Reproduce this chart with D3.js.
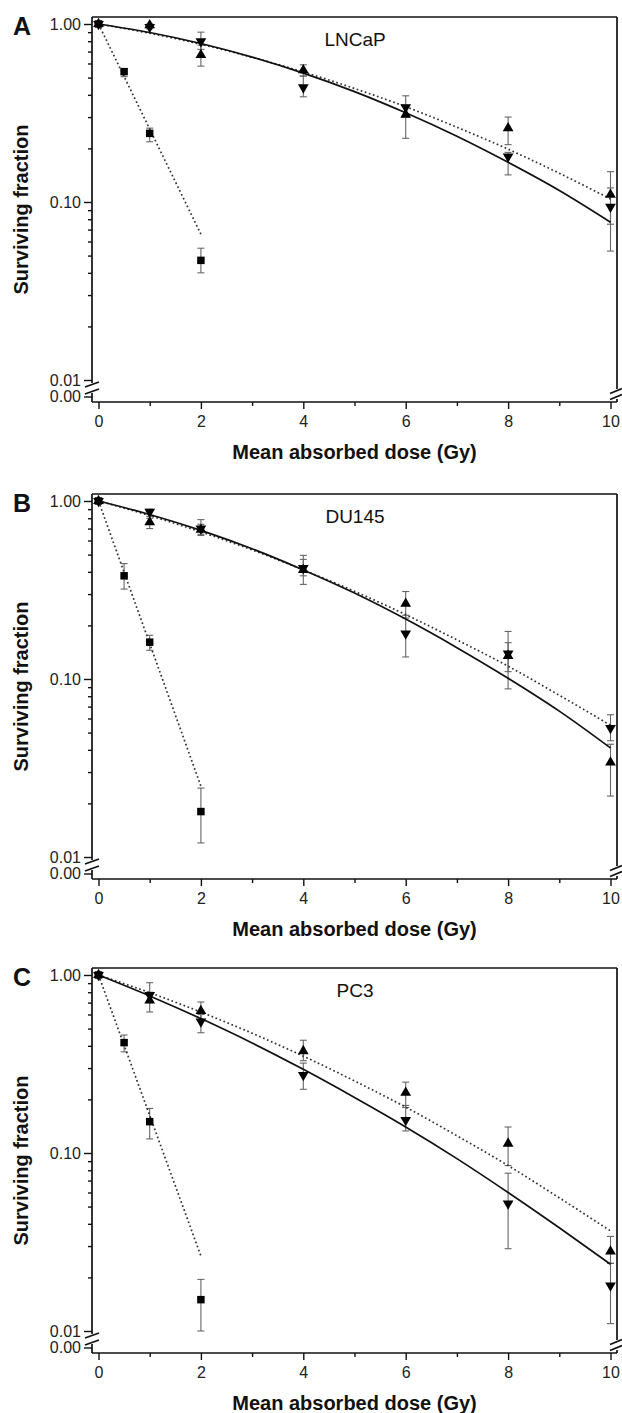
<!DOCTYPE html>
<html>
<head>
<meta charset="utf-8">
<script src="https://cdn.jsdelivr.net/npm/d3@7"></script>
<style>
  body { margin: 0; background: #fff; }
  svg { display: block; }
</style>
</head>
<body>
<svg id="chart"></svg>
<script>
// doses (Gy)
const triDoses = [0, 1, 2, 4, 6, 8, 10];
const sqDoses = [0, 0.5, 1, 2];
const fitDoses = [0, 1, 2, 3, 4, 5, 6, 7, 8, 9, 10];
const sqFitDoses = [0, 2];

// A - LNCaP
const lncapUp = [1.00, 0.985, 0.67, 0.55, 0.31, 0.26, 0.11];
const lncapUpLo = [0.98, 0.97, 0.58, 0.51, 0.228, 0.21, 0.075];
const lncapUpHi = [1.02, 1.00, 0.76, 0.59, 0.35, 0.30, 0.148];
const lncapDown = [1.00, 0.96, 0.80, 0.44, 0.34, 0.18, 0.094];
const lncapDownLo = [0.98, 0.94, 0.72, 0.39, 0.30, 0.142, 0.053];
const lncapDownHi = [1.02, 0.98, 0.90, 0.51, 0.395, 0.19, 0.12];
const lncapSq = [1.00, 0.54, 0.243, 0.047];
const lncapSqLo = [0.97, 0.506, 0.218, 0.040];
const lncapSqHi = [1.03, 0.56, 0.26, 0.055];
const lncapSolid = [1, 0.896, 0.777, 0.652, 0.53, 0.417, 0.317, 0.234, 0.167, 0.116, 0.077];
const lncapDotted = [1, 0.887, 0.769, 0.65, 0.538, 0.434, 0.343, 0.263, 0.198, 0.145, 0.104];
const lncapSqFit = [1, 0.066];

// B - DU145
const du145Up = [1.00, 0.76, 0.69, 0.41, 0.265, 0.135, 0.034];
const du145UpLo = [0.98, 0.70, 0.64, 0.34, 0.22, 0.088, 0.022];
const du145UpHi = [1.02, 0.82, 0.74, 0.47, 0.31, 0.16, 0.043];
const du145Down = [1.00, 0.87, 0.70, 0.42, 0.18, 0.139, 0.053];
const du145DownLo = [0.98, 0.80, 0.65, 0.38, 0.133, 0.11, 0.045];
const du145DownHi = [1.02, 0.90, 0.786, 0.495, 0.228, 0.185, 0.063];
const du145Sq = [1.00, 0.38, 0.161, 0.018];
const du145SqLo = [0.97, 0.32, 0.145, 0.012];
const du145SqHi = [1.03, 0.445, 0.176, 0.0244];
const du145Solid = [1, 0.84, 0.684, 0.539, 0.41, 0.304, 0.217, 0.150, 0.101, 0.066, 0.041];
const du145Dotted = [1, 0.828, 0.67, 0.531, 0.41, 0.311, 0.23, 0.166, 0.118, 0.081, 0.055];
const du145SqFit = [1, 0.025];

// C - PC3
const pc3Up = [1.00, 0.72, 0.628, 0.374, 0.218, 0.113, 0.028];
const pc3UpLo = [0.98, 0.62, 0.56, 0.33, 0.18, 0.085, 0.024];
const pc3UpHi = [1.02, 0.80, 0.705, 0.43, 0.25, 0.14, 0.034];
const pc3Down = [1.00, 0.77, 0.547, 0.274, 0.153, 0.052, 0.018];
const pc3DownLo = [0.98, 0.70, 0.474, 0.228, 0.133, 0.029, 0.011];
const pc3DownHi = [1.02, 0.905, 0.60, 0.32, 0.185, 0.077, 0.024];
const pc3Sq = [1.00, 0.417, 0.15, 0.015];
const pc3SqLo = [0.97, 0.37, 0.12, 0.010];
const pc3SqHi = [1.03, 0.46, 0.178, 0.0195];
const pc3Solid = [1, 0.763, 0.569, 0.415, 0.295, 0.205, 0.14, 0.093, 0.06, 0.038, 0.0237];
const pc3Dotted = [1, 0.796, 0.619, 0.471, 0.35, 0.254, 0.181, 0.125, 0.085, 0.056, 0.0365];
const pc3SqFit = [1, 0.0264];

const xTicks = [0, 2, 4, 6, 8, 10];
const xMinor = [1, 3, 5, 7, 9];
const yTicks = [1, 0.1, 0.01];
const yMinor = [0.02, 0.03, 0.04, 0.05, 0.06, 0.07, 0.08, 0.09, 0.2, 0.3, 0.4, 0.5, 0.6, 0.7, 0.8, 0.9];

const panels = [
  { letter: "A", name: "LNCaP", top: 24,
    up: lncapUp, upLo: lncapUpLo, upHi: lncapUpHi,
    down: lncapDown, downLo: lncapDownLo, downHi: lncapDownHi,
    sq: lncapSq, sqLo: lncapSqLo, sqHi: lncapSqHi,
    solid: lncapSolid, dotted: lncapDotted, sqFit: lncapSqFit },
  { letter: "B", name: "DU145", top: 501,
    up: du145Up, upLo: du145UpLo, upHi: du145UpHi,
    down: du145Down, downLo: du145DownLo, downHi: du145DownHi,
    sq: du145Sq, sqLo: du145SqLo, sqHi: du145SqHi,
    solid: du145Solid, dotted: du145Dotted, sqFit: du145SqFit },
  { letter: "C", name: "PC3", top: 975,
    up: pc3Up, upLo: pc3UpLo, upHi: pc3UpHi,
    down: pc3Down, downLo: pc3DownLo, downHi: pc3DownHi,
    sq: pc3Sq, sqLo: pc3SqLo, sqHi: pc3SqHi,
    solid: pc3Solid, dotted: pc3Dotted, sqFit: pc3SqFit }
];

const width = 622, height = 1413;
const frameLeft = 92, frameRight = 617;
const font = "'Liberation Sans', Arial, Helvetica, sans-serif";

const svg = d3.select("#chart")
  .attr("width", width)
  .attr("height", height)
  .attr("viewBox", [0, 0, width, height])
  .style("font-family", font);

const x = d3.scaleLinear([0, 10], [98.5, 610.5]);
const fmt = d3.format(".2f");

panels.forEach(p => {
  const y = d3.scaleLog([0.01, 1], [p.top + 356, p.top]);
  const yLow = y(0.01);
  const axisY = yLow + 22;
  const zeroY = yLow + 17;
  const frameTop = p.top - 7;
  const g = svg.append("g");

  // frame with axis breaks
  const frame = g.append("g").attr("stroke", "#111").attr("stroke-width", 1.7).attr("fill", "none");
  frame.append("line").attr("x1", frameLeft).attr("x2", frameRight).attr("y1", frameTop).attr("y2", frameTop);
  frame.append("line").attr("x1", frameLeft).attr("x2", frameRight).attr("y1", axisY).attr("y2", axisY);
  frame.append("line").attr("x1", frameLeft).attr("x2", frameLeft).attr("y1", frameTop).attr("y2", yLow + 3);
  frame.append("line").attr("x1", frameLeft).attr("x2", frameLeft).attr("y1", yLow + 13).attr("y2", axisY);
  frame.append("line").attr("x1", frameRight).attr("x2", frameRight).attr("y1", frameTop).attr("y2", yLow + 9);
  frame.append("line").attr("x1", frameRight).attr("x2", frameRight).attr("y1", yLow + 19).attr("y2", axisY);
  [4.5, 11.5].forEach(o => {
    frame.append("line").attr("x1", frameLeft - 7).attr("x2", frameLeft + 7)
      .attr("y1", yLow + o + 2.5).attr("y2", yLow + o - 2.5);
  });
  [11, 17].forEach(o => {
    frame.append("line").attr("x1", frameRight - 7).attr("x2", frameRight + 5)
      .attr("y1", yLow + o + 2.5).attr("y2", yLow + o - 2.5);
  });

  // y axis ticks
  const yAxis = g.append("g").attr("transform", `translate(${frameLeft},0)`)
    .call(d3.axisLeft(y).tickValues(yTicks).tickFormat(fmt).tickSize(8).tickPadding(3));
  const yAxisMinor = g.append("g").attr("transform", `translate(${frameLeft},0)`)
    .call(d3.axisLeft(y).tickValues(yMinor).tickFormat("").tickSize(4));
  [yAxis, yAxisMinor].forEach(a => {
    a.select(".domain").remove();
    a.selectAll("line").attr("stroke", "#111").attr("stroke-width", 1.4);
  });
  yAxis.selectAll("text").attr("font-size", 16).attr("fill", "#222").attr("font-family", font);
  // 0.00 tick below the break
  g.append("line").attr("x1", frameLeft - 8).attr("x2", frameLeft)
    .attr("y1", zeroY).attr("y2", zeroY).attr("stroke", "#111").attr("stroke-width", 1.4);
  g.append("text").attr("x", frameLeft - 11).attr("y", zeroY).attr("dy", "0.32em")
    .attr("text-anchor", "end").attr("font-size", 16).attr("fill", "#222").text(fmt(0));

  // x axis ticks
  const xAxis = g.append("g").attr("transform", `translate(0,${axisY})`)
    .call(d3.axisBottom(x).tickValues(xTicks).tickFormat(d3.format("d")).tickSize(7).tickPadding(7));
  const xAxisMinor = g.append("g").attr("transform", `translate(0,${axisY})`)
    .call(d3.axisBottom(x).tickValues(xMinor).tickFormat("").tickSize(4));
  [xAxis, xAxisMinor].forEach(a => {
    a.select(".domain").remove();
    a.selectAll("line").attr("stroke", "#111").attr("stroke-width", 1.4);
  });
  xAxis.selectAll("text").attr("font-size", 16).attr("fill", "#222").attr("font-family", font);

  // axis titles
  g.append("text").attr("x", (frameLeft + frameRight) / 2).attr("y", axisY + 57)
    .attr("text-anchor", "middle").attr("font-size", 20).attr("font-weight", "bold")
    .attr("fill", "#111").text("Mean absorbed dose (Gy)");
  g.append("text")
    .attr("transform", `translate(28,${(frameTop + axisY) / 2}) rotate(-90)`)
    .attr("text-anchor", "middle").attr("font-size", 20).attr("font-weight", "bold")
    .attr("fill", "#111").text("Surviving fraction");

  g.append("text").attr("x", 13).attr("y", p.top + 11)
    .attr("font-size", 25).attr("font-weight", "bold").attr("fill", "#111").text(p.letter);
  g.append("text").attr("x", 355).attr("y", p.top + 22).attr("text-anchor", "middle")
    .attr("font-size", 19).attr("fill", "#111").text(p.name);

  // error bars
  const bars = [];
  triDoses.forEach((d, i) => {
    bars.push([d, p.upLo[i], p.upHi[i]]);
    bars.push([d, p.downLo[i], p.downHi[i]]);
  });
  sqDoses.forEach((d, i) => bars.push([d, p.sqLo[i], p.sqHi[i]]));
  const eb = g.append("g").attr("stroke", "#666").attr("stroke-width", 1.1).attr("fill", "none");
  bars.forEach(([d, lo, hi]) => {
    const cx = x(d);
    eb.append("line").attr("x1", cx).attr("x2", cx).attr("y1", y(lo)).attr("y2", y(hi));
    eb.append("line").attr("x1", cx - 3.5).attr("x2", cx + 3.5).attr("y1", y(lo)).attr("y2", y(lo));
    eb.append("line").attr("x1", cx - 3.5).attr("x2", cx + 3.5).attr("y1", y(hi)).attr("y2", y(hi));
  });

  // fitted curves
  const line = d3.line().x(d => x(d[0])).y(d => y(d[1])).curve(d3.curveMonotoneX);
  g.append("path").datum(d3.zip(fitDoses, p.dotted)).attr("d", line)
    .attr("fill", "none").attr("stroke", "#333").attr("stroke-width", 1.7).attr("stroke-dasharray", "1.7,2.6");
  g.append("path").datum(d3.zip(sqFitDoses, p.sqFit)).attr("d", d3.line().x(d => x(d[0])).y(d => y(d[1])))
    .attr("fill", "none").attr("stroke", "#333").attr("stroke-width", 1.7).attr("stroke-dasharray", "1.7,2.6");
  g.append("path").datum(d3.zip(fitDoses, p.solid)).attr("d", line)
    .attr("fill", "none").attr("stroke", "#111").attr("stroke-width", 1.7);

  // markers
  const tri = d3.symbol(d3.symbolTriangle, 50);
  const sq = d3.symbol(d3.symbolSquare, 56);
  const mk = g.append("g").attr("fill", "#000");
  mk.selectAll(".sq").data(d3.zip(sqDoses, p.sq)).join("path")
    .attr("d", sq).attr("transform", d => `translate(${x(d[0])},${y(d[1])})`);
  mk.selectAll(".dn").data(d3.zip(triDoses, p.down)).join("path")
    .attr("d", tri).attr("transform", d => `translate(${x(d[0])},${y(d[1])}) rotate(180)`);
  mk.selectAll(".up").data(d3.zip(triDoses, p.up)).join("path")
    .attr("d", tri).attr("transform", d => `translate(${x(d[0])},${y(d[1])})`);
});
</script>
</body>
</html>
